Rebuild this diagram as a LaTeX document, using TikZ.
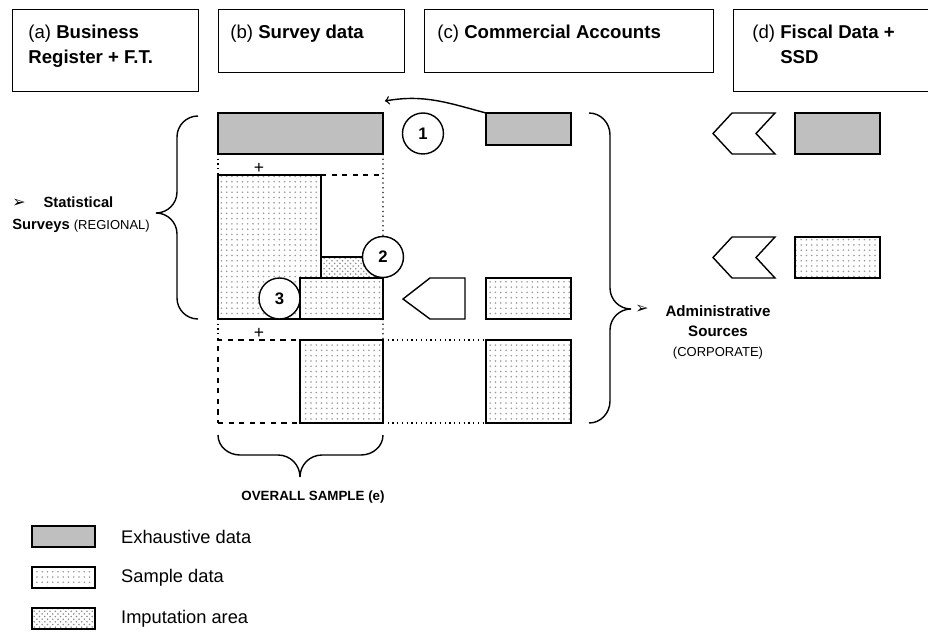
\documentclass[tikz,border=0pt]{standalone}
\usepackage{fontspec}
\setmainfont{Liberation Sans}
\newfontfamily\dejavu{DejaVu Sans}
\usetikzlibrary{positioning, patterns, arrows}

\begin{document}
\begin{tikzpicture}[x=0.02cm, y=-0.02cm]
    % Define styles for the nodes
    \tikzstyle{head} = [
        rectangle, draw, line width=0.6pt, anchor=north west, inner sep=0
    ]
    \tikzstyle{cell} = [
        rectangle, draw, line width=0.9pt, anchor=north west,
        inner sep=0, outer sep=0
    ]
    \tikzstyle{exh} = [fill=black!25]
    \tikzstyle{smp} = [preaction={fill=white}, pattern=dots, pattern color=black!40]
    \tikzstyle{imp} = [preaction={fill=white}, pattern=crosshatch dots, pattern color=black!45]
    \tikzstyle{num} = [
        circle, draw, fill=white, line width=0.8pt, minimum size=0.82cm,
        inner sep=0, outer sep=0, font=\fontsize{9.5}{11}\selectfont\bfseries
    ]
    \tikzstyle{hdtext} = [
        anchor=north west, inner sep=0, align=left,
        font=\fontsize{10.6}{14.2}\selectfont
    ]
    \tikzstyle{guide} = [dotted, line width=0.7pt]
    \tikzstyle{flag} = [line width=0.8pt, line join=miter]
    \tikzstyle{brace} = [line width=0.8pt]

    \useasboundingbox (0,0) rectangle (928,635);

    % Column headers
    \node[head, minimum width=3.72cm, minimum height=1.64cm] (ha) at (12,9) {};
    \node[head, minimum width=3.72cm, minimum height=1.26cm] (hb) at (218,9) {};
    \node[head, minimum width=5.78cm, minimum height=1.26cm] (hc) at (424,9) {};
    \node[head, minimum width=4.40cm, minimum height=1.64cm] (hd) at (733,9) {};

    \node[hdtext] (ta) at (28,25) {(a) \textbf{Business}\\\textbf{Register + F.T.}};
    \node[hdtext] (tb) at (230,25) {(b) \textbf{Survey data}};
    \node[hdtext] (tc) at (437,25) {(c) \textbf{Commercial Accounts}};
    \node[hdtext] (td) at (752,25) {(d) \textbf{Fiscal Data +}\\\hphantom{(d)}\ \textbf{SSD}};

    % Survey data column
    \node[cell, exh, minimum width=3.30cm, minimum height=0.82cm] (bgray) at (218,113) {};
    \node[cell, smp, minimum width=2.06cm, minimum height=2.88cm] (bsamp) at (218,175) {};
    \node[cell, imp, minimum width=1.24cm, minimum height=0.42cm] (bimp) at (bsamp.east |- 0,257) {};
    \node[cell, smp, minimum width=1.66cm, minimum height=0.82cm] (bsamp2) at (300,278) {};
    \node[cell, dashed, minimum width=1.64cm, minimum height=1.66cm] (bdash) at (218,340) {};
    \node[cell, smp, minimum width=1.66cm, minimum height=1.66cm] (bsamp3) at (bdash.north east) {};

    \draw[guide] (bgray.south west) -- (bsamp.north west);
    \draw[guide] (bgray.south east) -- (bimp.north east);
    \draw[line width=0.9pt, dashed] (bsamp.north east) -- (bsamp.north east -| bgray.east);
    \draw[guide] (bsamp.south west) -- (bdash.north west);
    \draw[guide] (bsamp2.south east) -- (bsamp3.north east);

    \node[font=\fontsize{10}{12}\selectfont, inner sep=0] (plus1) at (259,168) {+};
    \node[font=\fontsize{10}{12}\selectfont, inner sep=0] (plus2) at (259,333) {+};

    % Commercial accounts column
    \node[cell, exh, minimum width=1.70cm, minimum height=0.64cm] (cgray) at (486,113) {};
    \node[cell, smp, minimum width=1.70cm, minimum height=0.82cm] (csamp2) at (486,278) {};
    \node[cell, smp, minimum width=1.70cm, minimum height=1.66cm] (csamp3) at (486,340) {};

    \draw[guide] (bsamp3.north east) -- (csamp3.north west);
    \draw[guide] (bsamp3.south east) -- (csamp3.south west);

    \draw[flag] (403,299) -- (430,278) -- (465,278) -- (465,319) -- (430,319) -- cycle;

    % Fiscal data column
    \node[cell, exh, minimum width=1.70cm, minimum height=0.82cm] (dgray) at (795,113) {};
    \node[cell, smp, minimum width=1.70cm, minimum height=0.82cm] (dsamp) at (795,237) {};

    \foreach \cy in {133.5,257.5}
        \draw[flag] (713,\cy) -- (732,\cy-20.5) -- (775,\cy-20.5) -- (756,\cy)
            -- (775,\cy+20.5) -- (732,\cy+20.5) -- cycle;

    % Numbered steps
    \node[num, right=0.39cm of bgray] (n1) {1};
    \node[num] (n2) at (bimp.north east) {2};
    \node[num, left=0pt of bsamp2] (n3) {3};

    \coordinate (arrend) at (385,101);
    \draw[->, line width=0.8pt] (cgray.north west) to[out=165, in=10] (arrend);

    % Braces
    \draw[brace] (198,116) to[out=180,in=90] (177,137) -- (177,192)
        to[out=270,in=0] (156,213) to[out=0,in=90] (177,234) -- (177,298)
        to[out=270,in=180] (198,319);
    \draw[brace] (589,113) to[out=0,in=90] (610,135) -- (610,288)
        to[out=270,in=180] (631,309) to[out=180,in=90] (610,330) -- (610,401)
        to[out=270,in=0] (589,423);
    \draw[brace] (218,435) to[out=270,in=180] (240,455) -- (278,455)
        to[out=0,in=90] (300,477) to[out=90,in=180] (322,455) -- (361,455)
        to[out=0,in=270] (383,435);

    % Side labels
    \node[anchor=north west, inner sep=0, align=left, font=\fontsize{8.4}{13}\selectfont] (stat) at (12,196)
        {{\dejavu\fontsize{9}{13}\selectfont ➢}\hspace{3.6mm}\textbf{Statistical}\\
         \textbf{Surveys} {\fontsize{7.4}{13}\selectfont(REGIONAL)}};
    \node[inner sep=0, font=\dejavu\fontsize{9}{9}\selectfont] (admark) at (642,309) {➢};
    \node[anchor=north, inner sep=0, align=center, font=\fontsize{8.6}{11.3}\selectfont] (admin) at (718,305)
        {\textbf{Administrative}\\\textbf{Sources}\\{\fontsize{7.4}{11.3}\selectfont(CORPORATE)}};
    \node[font=\fontsize{7.6}{9}\selectfont\bfseries] (overall) at (313,497) {OVERALL SAMPLE (e)};

    % Legend
    \node[cell, exh, minimum width=1.26cm, minimum height=0.42cm] (lgex) at (32,526) {};
    \node[cell, smp, minimum width=1.26cm, minimum height=0.42cm] (lgsm) at (32,567) {};
    \node[cell, imp, minimum width=1.26cm, minimum height=0.42cm] (lgim) at (32,608) {};
    \node[anchor=west, font=\fontsize{10.4}{12}\selectfont, right=0.4cm of lgex] (lgext) {Exhaustive data};
    \node[anchor=west, font=\fontsize{10.4}{12}\selectfont, right=0.4cm of lgsm] (lgsmt) {Sample data};
    \node[anchor=west, font=\fontsize{10.4}{12}\selectfont, right=0.4cm of lgim] (lgimt) {Imputation area};

\end{tikzpicture}
\end{document}
